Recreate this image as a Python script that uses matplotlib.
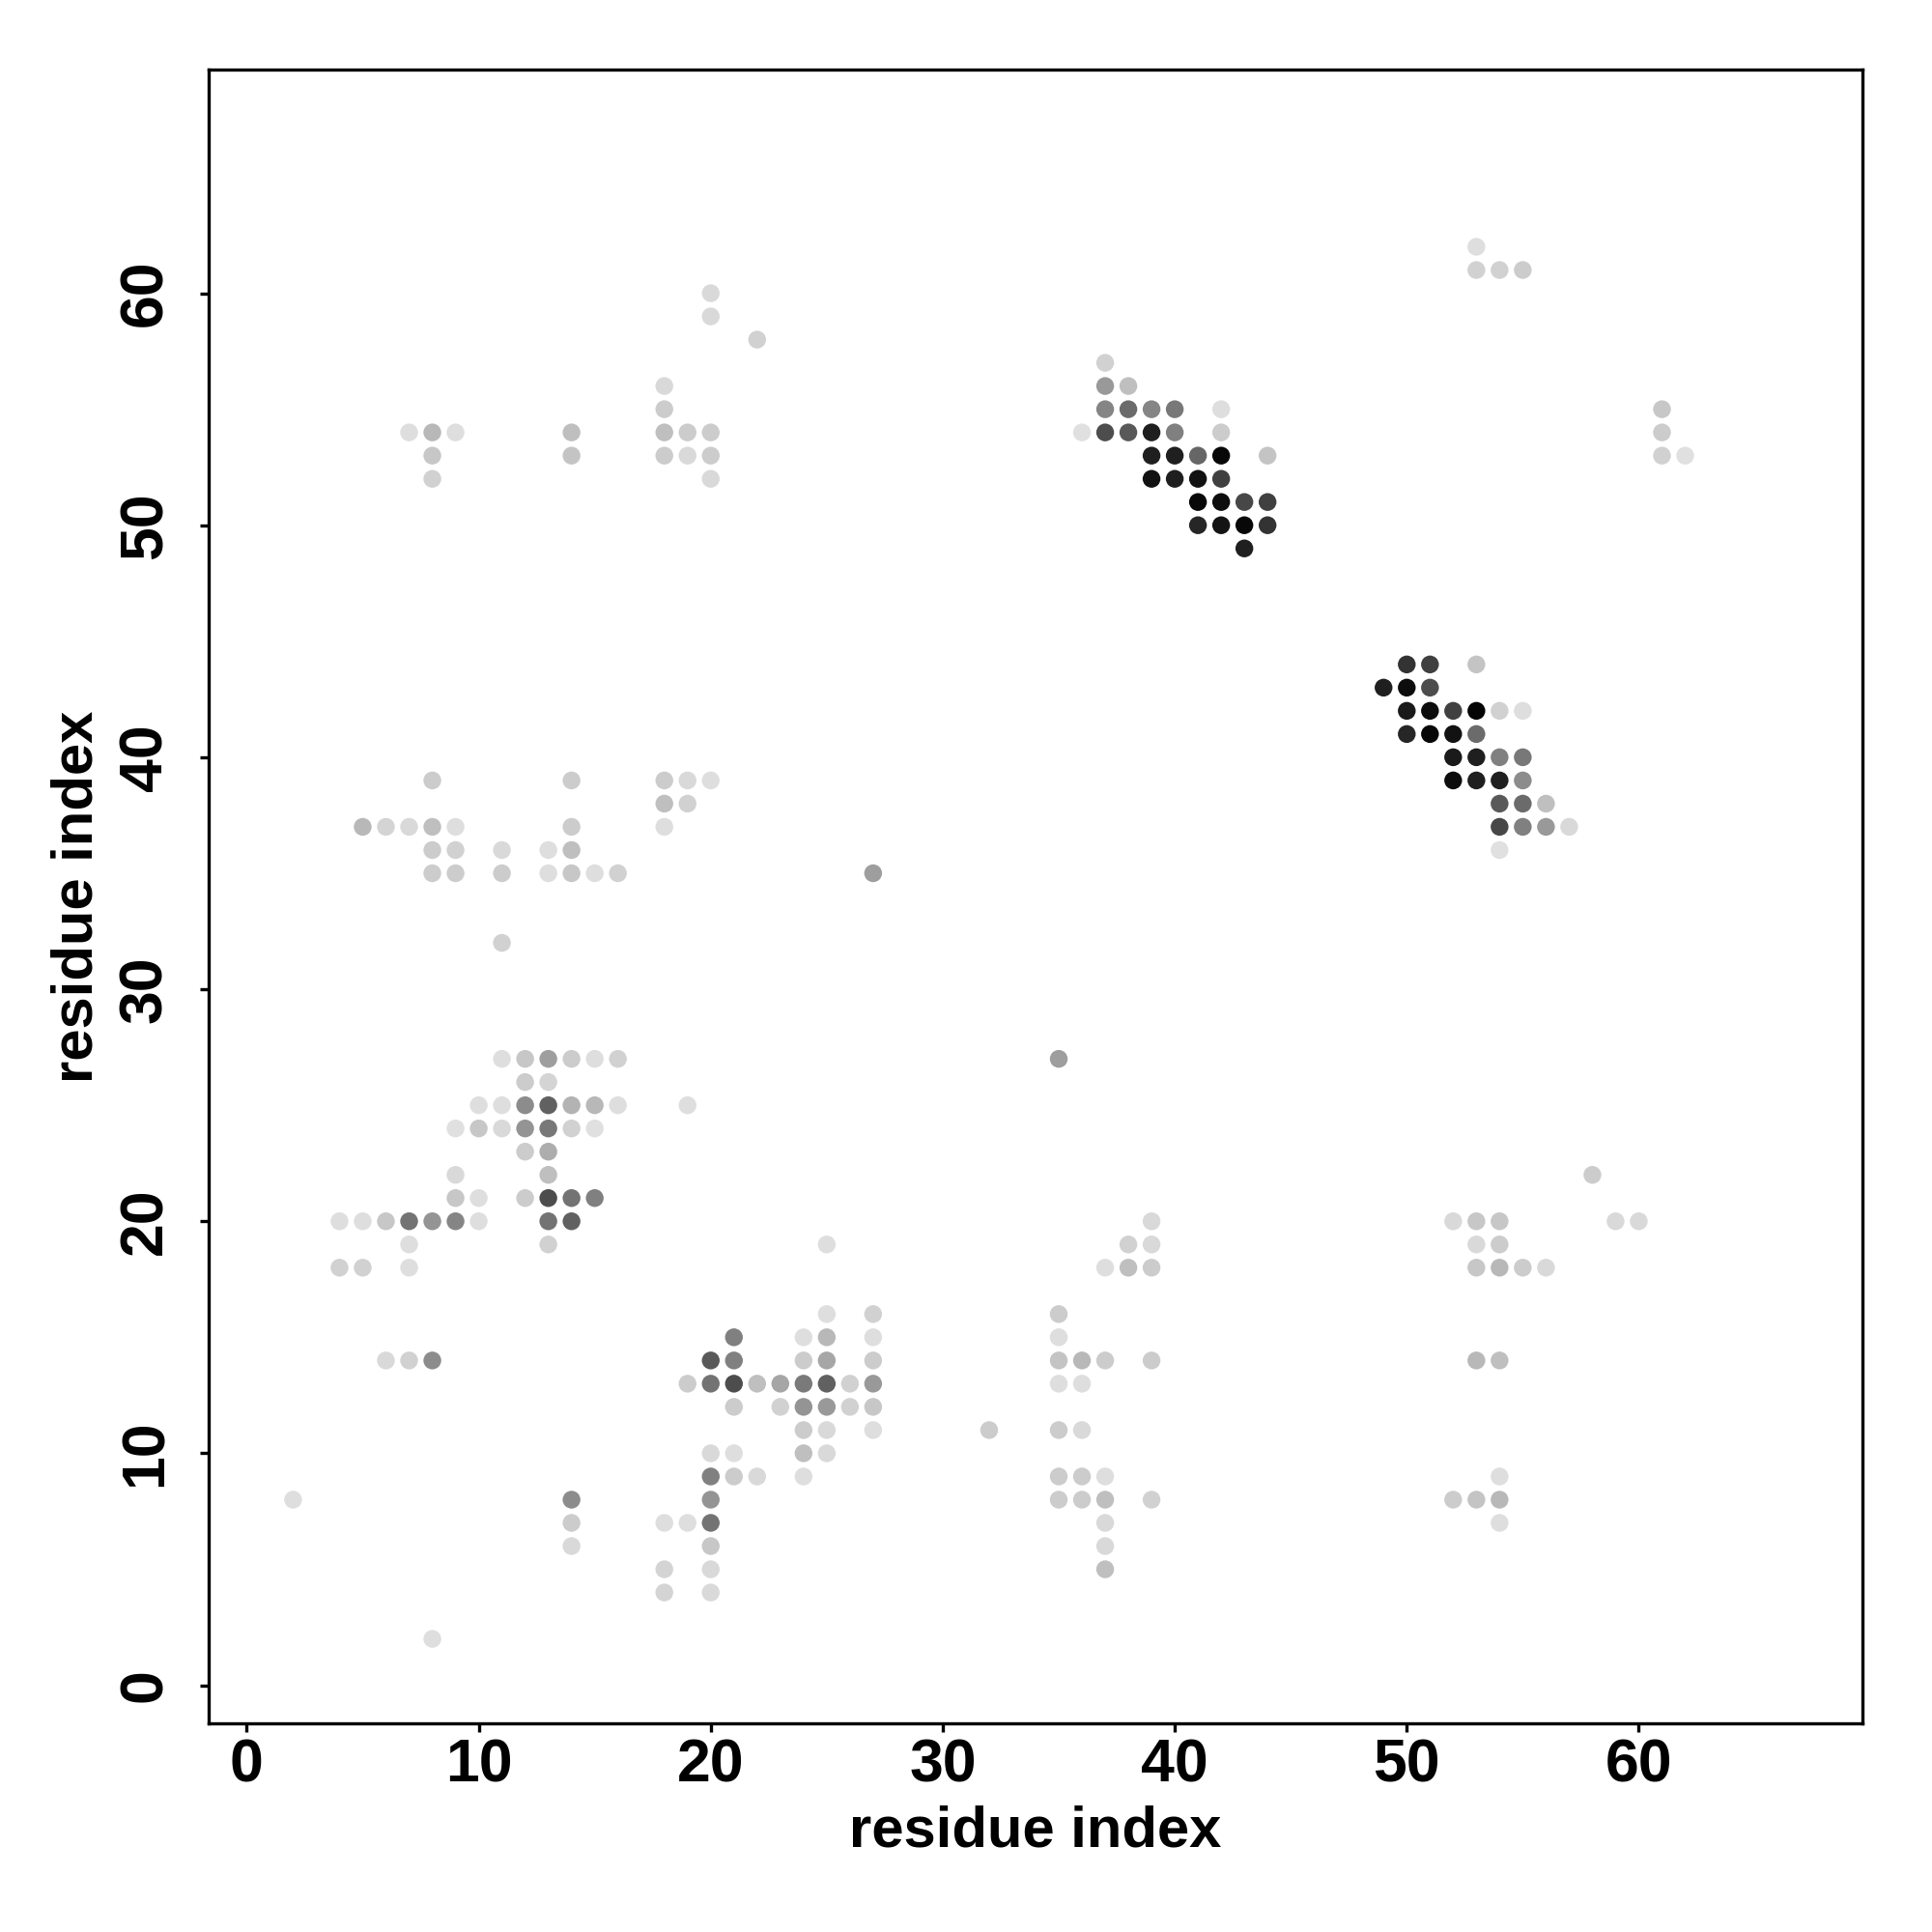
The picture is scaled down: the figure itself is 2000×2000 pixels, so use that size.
import matplotlib
matplotlib.use("Agg")
import matplotlib.pyplot as plt

# contact map: residue pairs (i, j) and grey level of the dot (0 = black, 1 = white)
res_i = [20, 20, 22, 18, 18, 7, 8, 9, 8, 8, 14, 14, 18, 19, 20, 18, 19, 20, 20,
         37, 37, 38, 37, 38, 39, 40, 36, 37, 38, 39, 40, 39, 40, 39, 40,
         41, 41, 41, 41, 42, 42, 42, 44, 42, 42, 43, 44, 42, 43, 44, 43,
         53, 53, 54, 55, 61, 61, 61, 62,
         50, 51, 53, 49, 50, 51, 50, 51, 52, 53, 54, 55, 50, 51, 52, 53,
         52, 53, 54, 55, 52, 53, 54, 55, 54, 55, 56, 54, 55, 56, 57, 54,
         8, 14, 18, 19, 20, 18, 19, 5, 6, 7, 8, 9, 14, 18,
         8, 9, 11, 13, 14, 8, 9, 11, 13, 14, 15, 16, 11, 27, 35,
         11, 12, 13, 14, 15, 16, 12, 13, 10, 11, 12, 13, 14, 15, 16, 19,
         9, 10, 11, 12, 13, 14, 15, 12, 13, 9, 13, 9, 10, 12, 13, 14, 15,
         4, 5, 6, 7, 8, 9, 10, 13, 14, 7, 13, 4, 5, 7, 6, 7, 8,
         25, 20, 21, 21, 19, 20, 21, 21, 20, 21, 20, 21, 22, 20, 14, 2,
         14, 18, 19, 20, 14, 20, 18, 20, 18, 20, 8,
         25, 27, 24, 25, 27, 24, 25, 27, 22, 23, 24, 25, 26, 27,
         23, 24, 25, 26, 27, 24, 25, 27, 24, 25, 24,
         32, 35, 35, 35, 36, 37, 39, 35, 36, 35, 36, 35, 36, 37,
         35, 36, 37, 39, 37, 37, 37, 39, 38, 39, 37, 38, 39,
         58, 52, 53, 54, 59, 60, 53, 54, 53, 54, 55, 56, 53, 54,
         54, 52, 53, 54, 54]
res_j = [60, 59, 58, 56, 55, 54, 54, 54, 53, 52, 54, 53, 54, 54, 54, 53, 53, 53, 52,
         57, 56, 56, 55, 55, 55, 55, 54, 54, 54, 54, 54, 53, 53, 52, 52,
         53, 52, 51, 50, 55, 54, 53, 53, 52, 51, 51, 51, 50, 50, 50, 49,
         62, 61, 61, 61, 55, 54, 53, 53,
         44, 44, 44, 43, 43, 43, 42, 42, 42, 42, 42, 42, 41, 41, 41, 41,
         40, 40, 40, 40, 39, 39, 39, 39, 38, 38, 38, 37, 37, 37, 37, 36,
         39, 39, 39, 39, 39, 38, 38, 37, 37, 37, 37, 37, 37, 37,
         36, 36, 36, 36, 36, 35, 35, 35, 35, 35, 35, 35, 32, 35, 27,
         27, 27, 27, 27, 27, 27, 26, 26, 25, 25, 25, 25, 25, 25, 25, 25,
         24, 24, 24, 24, 24, 24, 24, 23, 23, 22, 22, 21, 21, 21, 21, 21, 21,
         20, 20, 20, 20, 20, 20, 20, 20, 20, 19, 19, 18, 18, 18, 14, 14, 14,
         19, 14, 15, 14, 13, 13, 13, 12, 10, 10, 9, 9, 9, 8, 8, 8,
         7, 7, 7, 7, 6, 6, 5, 5, 4, 4, 2,
         16, 16, 15, 15, 15, 14, 14, 14, 13, 13, 13, 13, 13, 13,
         12, 12, 12, 12, 12, 11, 11, 11, 10, 10, 9,
         11, 16, 15, 14, 14, 14, 14, 13, 13, 11, 11, 9, 9, 9,
         8, 8, 8, 8, 7, 6, 5, 20, 19, 19, 18, 18, 18,
         22, 20, 20, 20, 20, 20, 19, 19, 18, 18, 18, 18, 14, 14,
         9, 8, 8, 8, 7]
grey = [0.85, 0.85, 0.82, 0.85, 0.80, 0.87, 0.72, 0.87, 0.78, 0.82, 0.75, 0.77, 0.75, 0.80, 0.80, 0.80, 0.85, 0.80, 0.85,
        0.82, 0.60, 0.75, 0.52, 0.42, 0.52, 0.47, 0.88, 0.30, 0.35, 0.12, 0.50, 0.12, 0.12, 0.07, 0.12,
        0.40, 0.07, 0.03, 0.15, 0.87, 0.80, 0.03, 0.77, 0.25, 0.05, 0.28, 0.25, 0.08, 0.03, 0.20, 0.12,
        0.87, 0.82, 0.82, 0.80, 0.78, 0.80, 0.82, 0.88,
        0.20, 0.25, 0.77, 0.12, 0.05, 0.30, 0.10, 0.05, 0.25, 0.02, 0.82, 0.87, 0.15, 0.03, 0.07, 0.42,
        0.10, 0.12, 0.50, 0.47, 0.05, 0.12, 0.12, 0.55, 0.35, 0.42, 0.75, 0.28, 0.50, 0.60, 0.85, 0.88,
        0.80, 0.80, 0.80, 0.85, 0.87, 0.75, 0.82, 0.72, 0.83, 0.85, 0.75, 0.87, 0.80, 0.87,
        0.80, 0.82, 0.85, 0.87, 0.75, 0.80, 0.80, 0.80, 0.87, 0.78, 0.87, 0.82, 0.82, 0.62, 0.62,
        0.87, 0.78, 0.62, 0.80, 0.87, 0.82, 0.80, 0.83, 0.87, 0.87, 0.55, 0.38, 0.70, 0.72, 0.87, 0.87,
        0.88, 0.78, 0.85, 0.58, 0.47, 0.82, 0.88, 0.80, 0.68, 0.85, 0.75, 0.78, 0.87, 0.80, 0.30, 0.45, 0.50,
        0.87, 0.87, 0.78, 0.45, 0.58, 0.52, 0.87, 0.45, 0.38, 0.87, 0.82, 0.82, 0.82, 0.87, 0.85, 0.82, 0.55,
        0.87, 0.35, 0.50, 0.50, 0.80, 0.45, 0.30, 0.80, 0.85, 0.87, 0.50, 0.80, 0.85, 0.58, 0.55, 0.87,
        0.80, 0.87, 0.87, 0.45, 0.85, 0.78, 0.83, 0.85, 0.83, 0.85, 0.87,
        0.87, 0.82, 0.87, 0.72, 0.87, 0.80, 0.65, 0.80, 0.75, 0.65, 0.48, 0.38, 0.82, 0.60,
        0.82, 0.58, 0.60, 0.82, 0.78, 0.80, 0.85, 0.87, 0.75, 0.85, 0.87,
        0.80, 0.80, 0.87, 0.77, 0.72, 0.80, 0.80, 0.87, 0.87, 0.80, 0.85, 0.80, 0.80, 0.87,
        0.80, 0.80, 0.75, 0.82, 0.85, 0.85, 0.75, 0.85, 0.82, 0.85, 0.87, 0.75, 0.80,
        0.80, 0.85, 0.78, 0.78, 0.85, 0.85, 0.85, 0.80, 0.78, 0.72, 0.80, 0.85, 0.72, 0.75,
        0.87, 0.80, 0.77, 0.72, 0.87]

ticks = [0, 10, 20, 30, 40, 50, 60]

plt.rcParams["font.family"] = ["Liberation Sans", "DejaVu Sans"]
plt.rcParams["font.weight"] = "bold"

fig = plt.figure(figsize=(10, 10), dpi=200)
ax = fig.add_axes([0.108, 0.108, 0.856, 0.856])

ax.scatter(res_i, res_j, s=44, c=[str(g) for g in grey], linewidths=0, zorder=3)

ax.set_xlim(-1.64, 69.64)
ax.set_ylim(-1.64, 69.64)
ax.set_xticks(ticks)
ax.set_yticks(ticks)
ax.tick_params(axis="both", direction="out", length=3.3, width=1.2, labelsize=22.5)
ax.tick_params(axis="x", pad=2)
ax.tick_params(axis="y", pad=9.5)
for lab in ax.get_yticklabels():
    lab.set_rotation(90)
    lab.set_va("center")
for sp in ax.spines.values():
    sp.set_linewidth(1.2)

ax.set_xlabel("residue index", fontsize=21.5, fontweight="bold", labelpad=4)
ax.set_ylabel("residue index", fontsize=21.5, fontweight="bold", labelpad=5)

fig.savefig("out.png", dpi=200, facecolor="white")
